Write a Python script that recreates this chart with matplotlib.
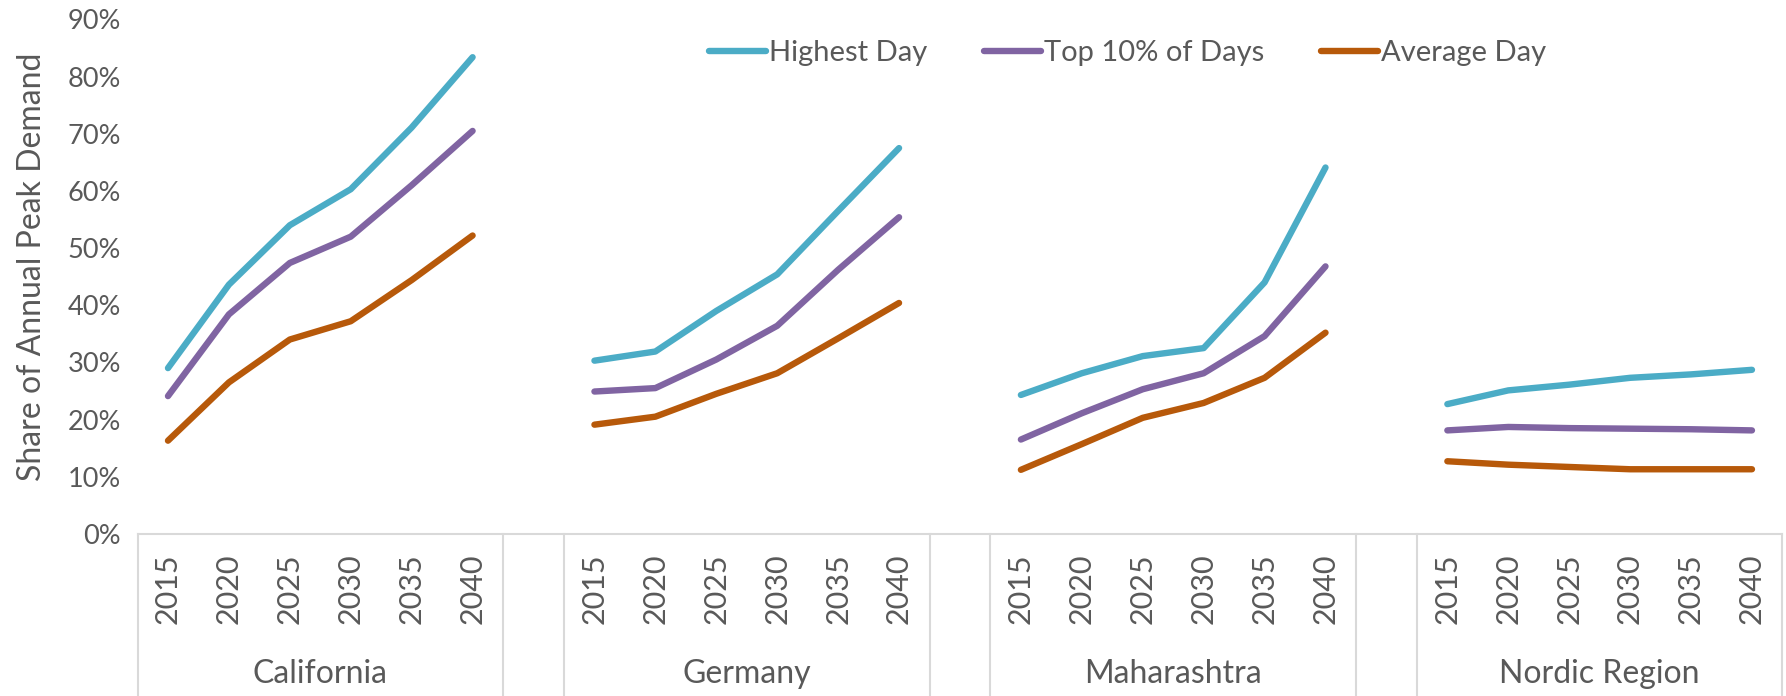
import matplotlib.pyplot as plt
from matplotlib.transforms import blended_transform_factory

# data (share of annual peak demand, %)
regions = ['California', 'Germany', 'Maharashtra', 'Nordic Region']
years = ['2015', '2020', '2025', '2030', '2035', '2040']
series_names = ['Highest Day', 'Top 10% of Days', 'Average Day']

highest_day = [
    [29.0, 43.6, 54.0, 60.3, 71.1, 83.4],
    [30.3, 31.9, 39.0, 45.4, 56.5, 67.5],
    [24.3, 28.1, 31.1, 32.5, 44.0, 64.1],
    [22.7, 25.1, 26.1, 27.3, 27.9, 28.7],
]
top_10pct = [
    [24.1, 38.4, 47.4, 52.0, 61.0, 70.5],
    [24.9, 25.5, 30.5, 36.4, 46.2, 55.4],
    [16.5, 21.1, 25.3, 28.1, 34.6, 46.8],
    [18.1, 18.7, 18.5, 18.4, 18.3, 18.1],
]
average_day = [
    [16.3, 26.5, 34.0, 37.2, 44.4, 52.2],
    [19.1, 20.5, 24.5, 28.1, 34.2, 40.4],
    [11.2, 15.7, 20.3, 22.9, 27.3, 35.2],
    [12.7, 12.1, 11.7, 11.3, 11.3, 11.3],
]

colours = ['#4BACC6', '#8064A2', '#B7590A']
txt = '#595959'
grid_c = '#D9D9D9'

plt.rcParams['font.family'] = ['Lato', 'DejaVu Sans']

fig = plt.figure(figsize=(17.86, 6.96), dpi=100)
ax = fig.add_axes([0.077, 0.233, 0.921, 0.739])

n = len(years)
step = n + 1  # one blank category between regions
for s, data in enumerate([highest_day, top_10pct, average_day]):
    for g, vals in enumerate(data):
        xs = [g * step + i for i in range(n)]
        ax.plot(xs, vals, color=colours[s], lw=4.6, solid_capstyle='round',
                solid_joinstyle='round', label=series_names[s] if g == 0 else None)

ax.set_xlim(-0.5, len(regions) * step - 1.5)
ax.set_ylim(0, 90)
ax.set_yticks(range(0, 91, 10))
ax.set_yticklabels([f'{v}%' for v in range(0, 91, 10)], color=txt, fontsize=19.5)
ax.tick_params(axis='y', length=0, pad=12)
ax.set_xticks([])
ax.set_ylabel('Share of Annual Peak Demand', color=txt, fontsize=23)
ax.yaxis.set_label_coords(-0.055, 0.52)
for sp in ['top', 'right', 'left']:
    ax.spines[sp].set_visible(False)
ax.spines['bottom'].set_color(grid_c)
ax.spines['bottom'].set_linewidth(1.5)

# two level category axis
trans = blended_transform_factory(ax.transData, ax.transAxes)
for g, name in enumerate(regions):
    x0 = g * step
    for i, yr in enumerate(years):
        ax.text(x0 + i, -0.107, yr, transform=trans, rotation=90, ha='center',
                va='center', color=txt, fontsize=22)
    ax.text(x0 + (n - 1) / 2, -0.272, name, transform=trans, ha='center',
            va='center', color=txt, fontsize=23)
    for xb in [x0 - 0.5, x0 + n - 0.5]:
        ax.plot([xb, xb], [0, -0.32], transform=trans, color=grid_c, lw=1.5,
                clip_on=False)

ax.legend(loc='center', bbox_to_anchor=(0.602, 0.934), ncol=3, frameon=False,
          fontsize=21, labelcolor=txt, handlelength=1.95, handletextpad=0.1,
          columnspacing=1.95)

plt.savefig('out.png', dpi=100)
plt.close()
